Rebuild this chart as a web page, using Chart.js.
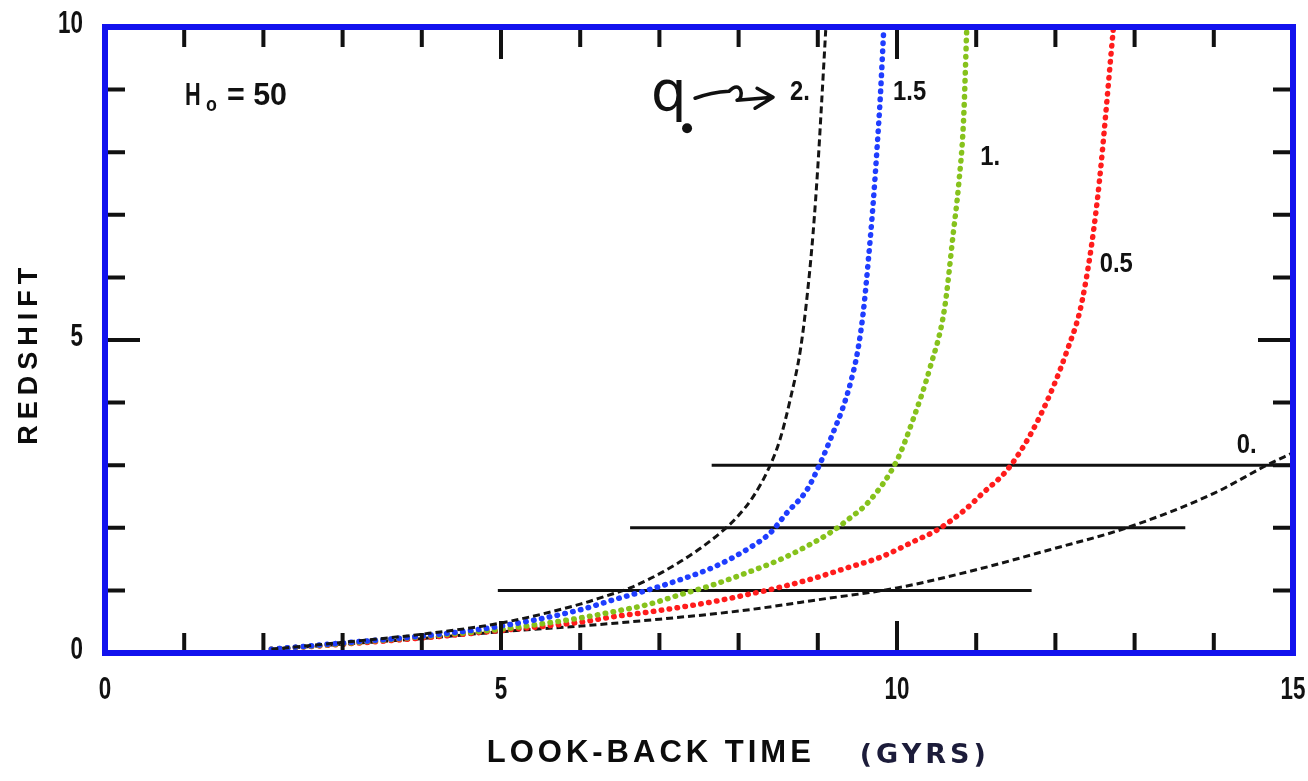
<!DOCTYPE html>
<html>
<head>
<meta charset="utf-8">
<title>Redshift vs look-back time</title>
<script src="https://cdn.jsdelivr.net/npm/chart.js@4.4.0/dist/chart.umd.min.js"></script>
<style>
    html, body { margin: 0; padding: 0; background: #fff; }
    #wrap { width: 1308px; height: 781px; }
</style>
</head>
<body>
<div id="wrap"><canvas id="chart" width="1308" height="781"></canvas></div>
<script>
// curve data (look-back time in Gyr, redshift)
const q2Time = [2.1, 3, 4, 5, 6, 6.3, 6.63, 7.05, 7.47, 7.77, 7.98, 8.18, 8.37, 8.52, 8.65, 8.78, 8.86, 8.94, 9.0, 9.05, 9.1];
const q2Redshift = [0.06, 0.17, 0.3, 0.48, 0.78, 0.9, 1.04, 1.3, 1.63, 1.92, 2.17, 2.49, 2.92, 3.4, 4.04, 4.84, 5.64, 6.7, 7.76, 8.83, 9.95];

const q15Time = [2.1, 3, 4, 5, 6.0, 6.42, 6.84, 7.26, 7.68, 8.1, 8.4, 8.61, 8.86, 9.03, 9.19, 9.32, 9.42, 9.5, 9.57, 9.64, 9.7, 9.75, 9.79, 9.83];
const q15Redshift = [0.06, 0.16, 0.27, 0.43, 0.69, 0.85, 1.0, 1.17, 1.37, 1.65, 1.92, 2.24, 2.6, 3.03, 3.51, 3.93, 4.35, 4.8, 5.4, 6.3, 7.2, 8.1, 8.9, 9.9];

const q1Time = [2.1, 3, 4, 5, 6.0, 6.42, 6.84, 7.26, 7.68, 8.1, 8.52, 8.94, 9.19, 9.37, 9.66, 10.0, 10.2, 10.42, 10.6, 10.71, 10.78, 10.84, 10.88];
const q1Redshift = [0.06, 0.15, 0.26, 0.38, 0.56, 0.66, 0.77, 0.93, 1.09, 1.28, 1.49, 1.76, 1.95, 2.12, 2.44, 3.08, 3.72, 4.57, 5.5, 6.7, 7.5, 8.5, 9.95];

const q05Time = [2.1, 3, 4, 5, 6.04, 6.42, 6.84, 7.26, 7.68, 8.1, 8.52, 8.94, 9.37, 9.79, 10.24, 10.5, 10.85, 11.08, 11.42, 11.8, 12.15, 12.34, 12.53, 12.73];
const q05Redshift = [0.06, 0.14, 0.24, 0.36, 0.5, 0.58, 0.65, 0.73, 0.82, 0.93, 1.05, 1.19, 1.36, 1.53, 1.8, 1.96, 2.28, 2.55, 2.97, 3.77, 4.84, 5.64, 7.24, 9.95];

const q0Time = [2.1, 3, 4, 5, 6, 7, 8, 9, 10, 11, 11.93, 12.9, 14, 14.67, 15];
const q0Redshift = [0.06, 0.14, 0.23, 0.34, 0.43, 0.54, 0.67, 0.85, 1.04, 1.33, 1.65, 2.0, 2.55, 3.0, 3.2];

// horizontal reference lines z = 1, 2, 3
const refRedshift = [1, 2, 3];
const refFrom = [4.96, 6.63, 7.66];
const refTo = [11.7, 13.64, 15];

// curve labels (q0 values)
const curveLabels = ['2.', '1.5', '1.', '0.5', '0.'];
const curveLabelTime = [8.65, 9.95, 11.05, 12.56, 14.29];
const curveLabelRedshift = [8.96, 8.96, 7.92, 6.21, 3.32];

const SANS = '"Liberation Sans", Arial, sans-serif';

const toPoints = (xs, ys) => xs.map((x, i) => ({ x, y: ys[i] }));

// dashed black / dotted colour styles
const dashedBlack = {
    borderColor: '#141414',
    borderWidth: 3,
    borderDash: [7, 4]
};
const dotted = (color) => ({
    borderColor: color,
    borderWidth: 5.5,
    borderDash: [0.5, 7.5],
    borderCapStyle: 'round'
});

const datasets = [
    { label: 'q0 = 2', data: toPoints(q2Time, q2Redshift), ...dashedBlack },
    { label: 'q0 = 1.5', data: toPoints(q15Time, q15Redshift), ...dotted('#1f3dff') },
    { label: 'q0 = 1', data: toPoints(q1Time, q1Redshift), ...dotted('#86c21c') },
    { label: 'q0 = 0.5', data: toPoints(q05Time, q05Redshift), ...dotted('#ff1c1c') },
    { label: 'q0 = 0', data: toPoints(q0Time, q0Redshift), ...dashedBlack }
];

refRedshift.forEach((z, i) => {
    datasets.push({
        label: 'z = ' + z,
        data: [{ x: refFrom[i], y: z }, { x: refTo[i], y: z }],
        borderColor: '#111',
        borderWidth: 3,
        tension: 0
    });
});

// condensed bold text, like the typed labels of the original
const drawNarrow = (ctx, text, px, py, size, align, sx) => {
    ctx.save();
    ctx.font = 'bold ' + size + 'px ' + SANS;
    ctx.textAlign = align;
    ctx.textBaseline = 'middle';
    ctx.translate(px, py);
    ctx.scale(sx, 1);
    ctx.fillText(text, 0, 0);
    ctx.restore();
};

// frame, inward ticks, tick labels and annotation text
const framePlugin = {
    id: 'frame',
    afterDatasetsDraw(chart) {
        const { ctx, chartArea: a, scales: { x, y } } = chart;
        ctx.save();

        // inward tick marks on all four sides
        ctx.strokeStyle = '#111';
        ctx.lineWidth = 4;
        ctx.beginPath();
        for (let v = 1; v < 15; v++) {
            const px = x.getPixelForValue(v);
            const len = v % 5 === 0 ? 32 : 20;
            ctx.moveTo(px, a.bottom); ctx.lineTo(px, a.bottom - len);
            ctx.moveTo(px, a.top); ctx.lineTo(px, a.top + len);
        }
        for (let v = 1; v < 10; v++) {
            const py = y.getPixelForValue(v);
            const len = v % 5 === 0 ? 35 : 20;
            ctx.moveTo(a.left, py); ctx.lineTo(a.left + len, py);
            ctx.moveTo(a.right, py); ctx.lineTo(a.right - len, py);
        }
        ctx.stroke();

        // blue frame
        ctx.strokeStyle = '#1212ee';
        ctx.lineWidth = 6;
        ctx.strokeRect(a.left, a.top, a.right - a.left, a.bottom - a.top);

        // tick labels from the scales
        ctx.fillStyle = '#111';
        x.ticks.forEach(t => drawNarrow(ctx, String(t.value), x.getPixelForValue(t.value), a.bottom + 37, 32, 'center', 0.7));
        y.ticks.forEach(t => drawNarrow(ctx, String(t.value), a.left - 22, y.getPixelForValue(t.value) - 3, 32, 'right', 0.7));

        // H0 = 50
        const hx = x.getPixelForValue(1.01);
        const hy = y.getPixelForValue(8.9);
        drawNarrow(ctx, 'H', hx, hy, 32, 'left', 0.68);
        drawNarrow(ctx, 'o', hx + 21, hy + 9, 21, 'left', 0.85);
        drawNarrow(ctx, '= 50', hx + 42, hy, 32, 'left', 0.95);

        // curve labels
        curveLabels.forEach((t, i) => {
            drawNarrow(ctx, t, x.getPixelForValue(curveLabelTime[i]), y.getPixelForValue(curveLabelRedshift[i]), 28, 'left', 0.85);
        });

        // handwritten q0 with arrow
        const qx = x.getPixelForValue(6.92);
        const qy = y.getPixelForValue(8.67);
        ctx.textAlign = 'left';
        ctx.textBaseline = 'alphabetic';
        ctx.font = '56px "DejaVu Sans", sans-serif';
        ctx.fillText('q', qx - 2, qy);
        ctx.beginPath();
        ctx.arc(qx + 34, qy + 18, 5, 0, Math.PI * 2);
        ctx.fill();
        ctx.strokeStyle = '#111';
        ctx.lineWidth = 3.5;
        ctx.lineCap = 'round';
        ctx.lineJoin = 'round';
        ctx.beginPath();
        ctx.moveTo(qx + 42, qy - 12);
        ctx.quadraticCurveTo(qx + 58, qy - 18, qx + 76, qy - 19);
        ctx.bezierCurveTo(qx + 88, qy - 32, qx + 92, qy - 12, qx + 84, qy - 10);
        ctx.lineTo(qx + 120, qy - 13);
        ctx.moveTo(qx + 104, qy - 22);
        ctx.lineTo(qx + 120, qy - 13);
        ctx.lineTo(qx + 102, qy - 2);
        ctx.stroke();

        // axis titles
        ctx.fillStyle = '#0c0c0c';
        ctx.textBaseline = 'middle';
        ctx.font = 'bold 31px ' + SANS;
        ctx.letterSpacing = '4px';
        ctx.fillText('LOOK-BACK TIME', x.getPixelForValue(4.82), a.bottom + 100);
        ctx.font = 'bold 27px "DejaVu Sans", sans-serif';
        ctx.letterSpacing = '4px';
        ctx.fillStyle = '#1c1c3a';
        ctx.fillText('(GYRS)', x.getPixelForValue(9.53), a.bottom + 103);

        ctx.fillStyle = '#0c0c0c';
        ctx.font = 'bold 27px ' + SANS;
        ctx.letterSpacing = '6px';
        ctx.translate(30, y.getPixelForValue(4.79));
        ctx.rotate(-Math.PI / 2);
        ctx.textAlign = 'center';
        ctx.fillText('REDSHIFT', 0, 0);

        ctx.restore();
    }
};

const chart = new Chart(document.getElementById('chart').getContext('2d'), {
    type: 'line',
    data: { datasets },
    options: {
        responsive: false,
        animation: false,
        layout: { padding: { left: 0, top: 27, right: 15, bottom: 0 } },
        elements: {
            point: { radius: 0 },
            line: { cubicInterpolationMode: 'monotone', fill: false }
        },
        plugins: {
            legend: { display: false },
            tooltip: { enabled: false }
        },
        scales: {
            x: {
                type: 'linear',
                min: 0,
                max: 15,
                grid: { display: false, drawTicks: false },
                border: { display: false },
                ticks: { stepSize: 5, display: false },
                afterFit(scale) { scale.height = 128; }
            },
            y: {
                type: 'linear',
                min: 0,
                max: 10,
                grid: { display: false, drawTicks: false },
                border: { display: false },
                ticks: { stepSize: 5, display: false },
                afterFit(scale) { scale.width = 105; }
            }
        }
    },
    plugins: [framePlugin]
});
</script>
</body>
</html>
